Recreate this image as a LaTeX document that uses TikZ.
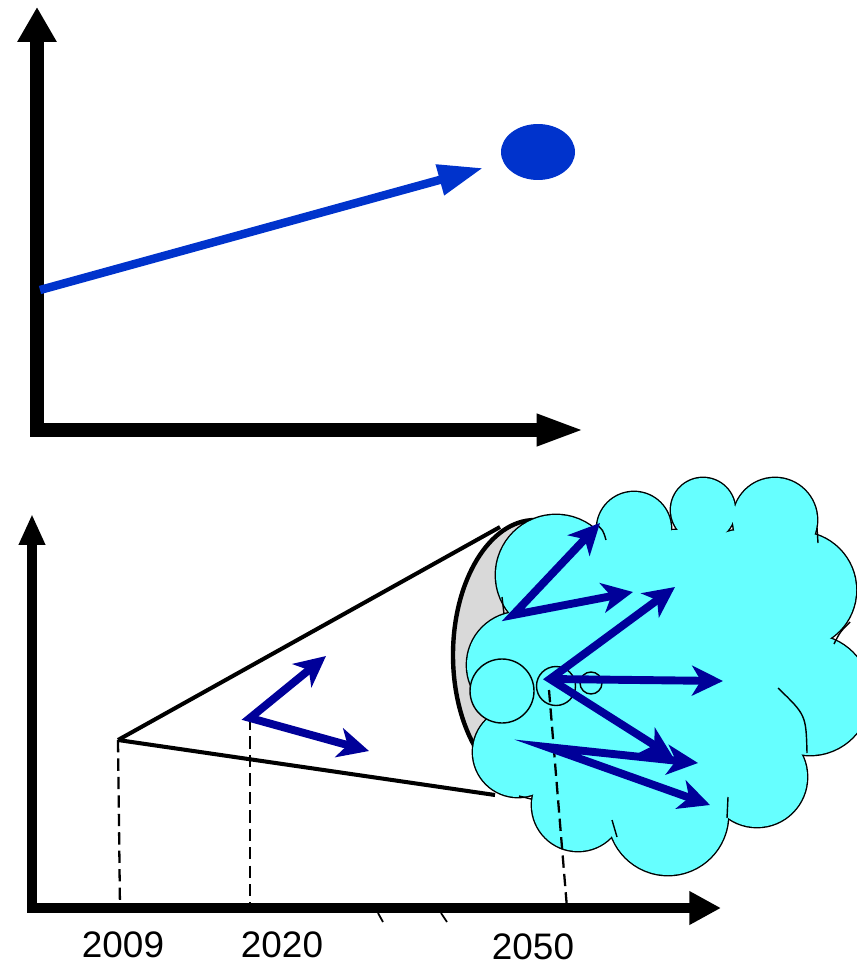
\documentclass[tikz,border=0pt]{standalone}
\usepackage{fontspec}
\setmainfont{Liberation Sans}
\usepackage{xcolor}
\usepackage{tikz}
\usetikzlibrary{arrows.meta,shapes.geometric}
\definecolor{trendblue}{HTML}{0033CC}
\definecolor{scenblue}{HTML}{000099}
\definecolor{cloudcyan}{HTML}{66FFFF}
\definecolor{conegray}{HTML}{D9D9D9}

\begin{document}
\begin{tikzpicture}[
  x=0.02cm, y=-0.02cm,
  axistop/.style={line width=8.2pt, line join=miter, {Triangle[length=19.8pt,width=21pt]}-{Triangle[length=27.5pt,width=16.4pt]}},
  axisbot/.style={line width=5.7pt, line join=miter, {Triangle[length=17.6pt,width=14pt]}-{Triangle[length=18pt,width=18pt]}},
  trend/.style={trendblue, line width=4.8pt, -{Triangle[length=25.5pt,width=17pt]}},
  scen/.style={scenblue, line width=4.5pt, line join=miter, -{Stealth[length=17.6pt,width=17pt,inset=5pt]}},
  scentwo/.style={scen, {Stealth[length=17.6pt,width=17pt,inset=5pt]}-{Stealth[length=17.6pt,width=17pt,inset=5pt]}},
  cone/.style={line width=2.3pt},
  drop/.style={line width=1.3pt, dash pattern=on 7pt off 3.5pt},
  stub/.style={line width=0.8pt},
  bubble/.style={draw, line width=0.8pt, fill=cloudcyan},
  yearlbl/.style={font=\fontsize{21}{25}\selectfont, inner sep=0pt, anchor=base},
]
\useasboundingbox (0,0) rectangle (856,969);

% upper chart
\node[ellipse, fill=trendblue, inner sep=0pt, minimum width=1.48cm, minimum height=1.12cm] (goal) at (538,152) {};
\coordinate (trendstart) at (40,290);
\coordinate (trendend) at (483,168);
\draw[axistop] (37,7) -- (37,430) -- (585,430);
\draw[trend] (trendstart) -- (trendend);

% lower chart: cone
\coordinate (apex) at (118,740);
\coordinate (conetop) at (500,527);
\coordinate (conebot) at (495,795);
\draw[cone] (apex) -- (conetop);
\draw[cone] (apex) -- (conebot);
\filldraw[fill=conegray, line width=2.5pt] (535,655) ellipse [x radius=82, y radius=135];

% cloud
\def\cloudparts{556/575/60, 634/529/37, 703/510/32, 775/520/42, 798/590/58, 810/695/60, 757/777/50, 668/815/60, 578/805/46, 518/752/45, 520/665/53, 680/670/140, 580/700/70, 740/570/40}
\foreach \cx/\cy/\r in \cloudparts
  \draw[line width=1.6pt] (\cx,\cy) circle [radius=\r];
\foreach \cx/\cy/\r in \cloudparts
  \fill[cloudcyan] (\cx,\cy) circle [radius=\r];
\draw[stub] (807,753) .. controls (806,715) .. (778,688);
\draw[stub] (596,524) .. controls (603,530) .. (606,540);
\draw[stub] (817,528) -- (818,543);
\draw[stub] (834,644) .. controls (840,632) .. (850,622);
\draw[stub] (728,797) -- (727,818);
\draw[stub] (612,820) -- (617,837);
\draw[stub] (519,796) -- (531,799);
\draw[stub] (502,597) -- (504,614);

\draw[bubble] (502,691) circle [radius=32];
\draw[bubble] (556,686) circle [radius=19.5];
\draw[bubble] (591,683) circle [radius=11];

% year guides
\coordinate (vtxN) at (250,718);
\coordinate (vtxA) at (513,615);
\coordinate (vtxB) at (550,679);
\coordinate (vtxC) at (547,747);
\coordinate (foot09) at (120,908);
\coordinate (foot20) at (250,908);
\coordinate (foot50) at (567,908);
\draw[drop] (apex) -- (foot09);
\draw[drop] (vtxN) -- (foot20);
\draw[drop] (549,690) -- (foot50);

% scenario arrows
\draw[scentwo] (326,656) -- (vtxN) -- (369,751);
\draw[scentwo] (600,523) -- (vtxA) -- (633,592);
\draw[scentwo] (675,587) -- (vtxB) -- (673,757);
\draw[scen] (vtxB) -- (723,681);
\draw[scentwo] (698,763) -- (vtxC) -- (710,805);

% lower axes
\draw[axisbot] (32,514) -- (32,908) -- (721,908);
\draw[line width=1pt] (378,913) -- (383,922);
\draw[line width=1pt] (441,913) -- (447,922);

\node[yearlbl] (y2009) at (123,957) {2009};
\node[yearlbl] (y2020) at (282,957) {2020};
\node[yearlbl] (y2050) at (533,959) {2050};
\end{tikzpicture}
\end{document}
